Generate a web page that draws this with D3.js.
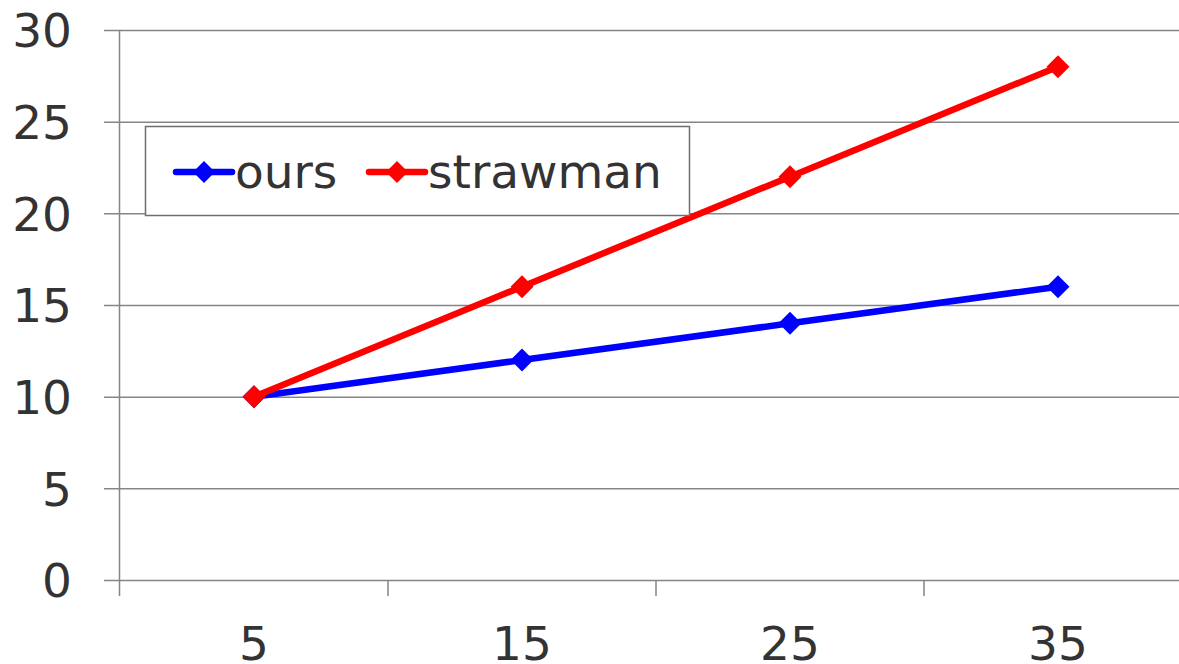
<!DOCTYPE html>
<html>
<head>
<meta charset="utf-8">
<script src="https://cdn.jsdelivr.net/npm/d3@7"></script>
<style>
  html, body { margin: 0; padding: 0; background: #fff; }
  svg { display: block; }
  text { font-family: "DejaVu Sans", Verdana, sans-serif; fill: #333; }
</style>
</head>
<body>
<svg id="chart" width="1179" height="664"></svg>
<script>
// Chart data
const categories = ["5", "15", "25", "35"];
const oursValues = [10, 12, 14, 16];
const strawmanValues = [10, 16, 22, 28];
const yTicks = [0, 5, 10, 15, 20, 25, 30];
const seriesNames = ["ours", "strawman"];
const seriesColors = ["#0000ff", "#ff0000"];

const width = 1179, height = 664;
const margin = { left: 120, top: 30, bottom: 84 };
const plotRight = 1192;
const plotBottom = height - margin.bottom;
const fontSize = 47;

const svg = d3.select("#chart");

const x = d3.scaleBand().domain(categories).range([margin.left, plotRight]);
const y = d3.scaleLinear().domain([0, 30]).range([plotBottom, margin.top]);

const gridColor = "#858585";

// Horizontal gridlines with left ticks
const yAxis = d3.axisLeft(y)
  .tickValues(yTicks)
  .tickSize(-(width - margin.left))
  .tickSizeOuter(0)
  .tickPadding(48)
  .tickFormat(d3.format("d"));

const gy = svg.append("g")
  .attr("transform", `translate(${margin.left},0)`)
  .call(yAxis);
gy.select(".domain").remove();
gy.selectAll(".tick line")
  .attr("x1", -16)
  .attr("stroke", gridColor)
  .attr("stroke-width", 1.5);
gy.selectAll(".tick text")
  .attr("font-size", fontSize)
  .attr("fill", "#333")
  .attr("dy", "0.36em");

// Vertical axis line
svg.append("line")
  .attr("x1", margin.left - 0.5).attr("x2", margin.left - 0.5)
  .attr("y1", margin.top).attr("y2", plotBottom + 16)
  .attr("stroke", gridColor).attr("stroke-width", 1.5);

// Category axis
const xAxis = d3.axisBottom(x).tickSize(0).tickPadding(47);
const gx = svg.append("g")
  .attr("transform", `translate(0,${plotBottom})`)
  .call(xAxis);
gx.select(".domain").remove();
gx.selectAll(".tick line").remove();
gx.selectAll(".tick text")
  .attr("font-size", fontSize)
  .attr("fill", "#333")
  .attr("dy", "0.71em");

// Category boundary ticks
svg.append("g").selectAll("line")
  .data(categories.slice(1))
  .join("line")
  .attr("x1", d => x(d)).attr("x2", d => x(d))
  .attr("y1", plotBottom).attr("y2", plotBottom + 16)
  .attr("stroke", gridColor).attr("stroke-width", 1.5);

// Series
const series = [
  { name: seriesNames[0], values: oursValues, color: seriesColors[0] },
  { name: seriesNames[1], values: strawmanValues, color: seriesColors[1] }
];

const line = d3.line()
  .x((d, i) => x(categories[i]) + x.bandwidth() / 2)
  .y(d => y(d));

const diamond = s => `M0,${-s} L${s},0 L0,${s} L${-s},0 Z`;

series.forEach(s => {
  const g = svg.append("g");
  g.append("path")
    .datum(s.values)
    .attr("d", line)
    .attr("fill", "none")
    .attr("stroke", s.color)
    .attr("stroke-width", 6.5)
    .attr("stroke-linejoin", "round");
  g.selectAll("path.marker")
    .data(s.values)
    .join("path")
    .attr("class", "marker")
    .attr("d", diamond(11.5))
    .attr("fill", s.color)
    .attr("transform", (d, i) => `translate(${x(categories[i]) + x.bandwidth() / 2},${y(d)})`);
});

// Legend
const legend = svg.append("g");
legend.append("rect")
  .attr("x", 145.5).attr("y", 126.5)
  .attr("width", 544).attr("height", 89)
  .attr("fill", "#fff")
  .attr("stroke", "#6e6e6e").attr("stroke-width", 1.5);

const legendItems = [
  { name: seriesNames[0], color: seriesColors[0], x0: 176 },
  { name: seriesNames[1], color: seriesColors[1], x0: 369 }
];
const legendY = 172;
legendItems.forEach(it => {
  legend.append("line")
    .attr("x1", it.x0).attr("x2", it.x0 + 56)
    .attr("y1", legendY).attr("y2", legendY)
    .attr("stroke", it.color).attr("stroke-width", 6.5)
    .attr("stroke-linecap", "round");
  legend.append("path")
    .attr("d", diamond(11))
    .attr("fill", it.color)
    .attr("transform", `translate(${it.x0 + 28},${legendY})`);
  legend.append("text")
    .attr("x", it.x0 + 59).attr("y", legendY)
    .attr("dy", "0.34em")
    .attr("font-size", fontSize)
    .text(it.name);
});
</script>
</body>
</html>
